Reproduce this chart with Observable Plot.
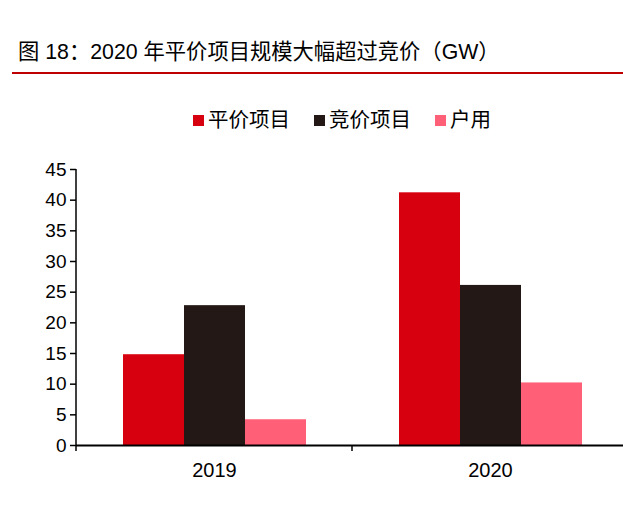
<!DOCTYPE html>
<html>
<head>
<meta charset="utf-8">
<script src="https://cdn.jsdelivr.net/npm/d3@7"></script>
<script src="https://cdn.jsdelivr.net/npm/@observablehq/plot@0.6"></script>
<style>
  body { margin: 0; background: #fff; }
  #wrap { position: relative; width: 623px; height: 505px; overflow: hidden; background: #fff;
          font-family: "Liberation Sans", Arial, "Noto Sans CJK SC", sans-serif; color: #000; }
  #title { position: absolute; left: 18px; top: 40px; font-size: 21.3px; line-height: 24px; white-space: nowrap; }
  #rule { position: absolute; left: 12px; top: 72px; width: 611px; height: 2px; background: #c00000; }
  #legend { position: absolute; left: 193px; top: 107px; display: flex; align-items: center; font-size: 20.5px; line-height: 26px; white-space: nowrap; }
  .item { display: flex; align-items: center; margin-right: 24px; }
  .sw { width: 11px; height: 11px; margin-right: 4px; }
  #chart { position: absolute; left: 0; top: 150px; }
</style>
</head>
<body>
<div id="wrap">
  <div id="title">图 18：2020 年平价项目规模大幅超过竞价（GW）</div>
  <div id="rule"></div>
  <div id="legend"></div>
  <div id="chart"></div>
</div>
<script>
const years = ["2019", "2020"];
const series = ["平价项目", "竞价项目", "户用"];
const flatProjects = [14.8, 41.2];
const biddingProjects = [22.8, 26.1];
const household = [4.2, 10.2];
const colors = ["#d7000f", "#231815", "#ff6078"];
const yTicks = [0, 5, 10, 15, 20, 25, 30, 35, 40, 45];

const valuesBySeries = [flatProjects, biddingProjects, household];
const data = years.flatMap((yr, i) =>
  series.map((s, j) => ({year: yr, series: s, value: valuesBySeries[j][i]}))
);

// legend
const legend = document.getElementById("legend");
series.forEach((s, j) => {
  const it = document.createElement("div");
  it.className = "item";
  const sw = document.createElement("div");
  sw.className = "sw";
  sw.style.background = colors[j];
  const tx = document.createElement("span");
  tx.textContent = s;
  it.appendChild(sw); it.appendChild(tx);
  legend.appendChild(it);
});

const plot = Plot.plot({
  width: 623,
  height: 355,
  marginTop: 19,
  marginBottom: 60,
  marginLeft: 75,
  marginRight: 0,
  style: {fontFamily: "'Liberation Sans', Arial, sans-serif", color: "#000", background: "transparent"},
  fx: {domain: years, range: [75, 628], padding: 0},
  x: {domain: series, paddingInner: 0, paddingOuter: 0.75, axis: null},
  y: {domain: [0, 45]},
  color: {domain: series, range: colors},
  marks: [
    Plot.barY(data, {fx: "year", x: "series", y: "value", fill: "series"}),
    Plot.ruleY([0], {stroke: "#000", strokeWidth: 2}),
    Plot.axisY(yTicks, {anchor: "left", tickSize: 6, tickPadding: 4, fontSize: 19, label: null, strokeWidth: 1.5}),
    Plot.axisFx({anchor: "bottom", tickSize: 0, tickPadding: 17, fontSize: 20, label: null})
  ]
});
document.getElementById("chart").appendChild(plot);

// axis line and category boundary ticks, placed with Plot's own fx and y scales
const fx = plot.scale("fx");
const ys = plot.scale("y");
const y0 = ys.apply(0);
const yTop = ys.apply(yTicks[yTicks.length - 1]);
const left = fx.apply(years[0]);
const bounds = years.map(yr => fx.apply(yr)).concat([fx.apply(years[years.length - 1]) + fx.bandwidth]);
const g = d3.select(plot).append("g");
g.append("line").attr("x1", left).attr("x2", left).attr("y1", yTop).attr("y2", y0)
  .attr("stroke", "#000").attr("stroke-width", 1.5);
bounds.forEach(bx => {
  g.append("line").attr("x1", bx).attr("x2", bx).attr("y1", y0).attr("y2", y0 + 6)
    .attr("stroke", "#000").attr("stroke-width", 1.5);
});
</script>
</body>
</html>
